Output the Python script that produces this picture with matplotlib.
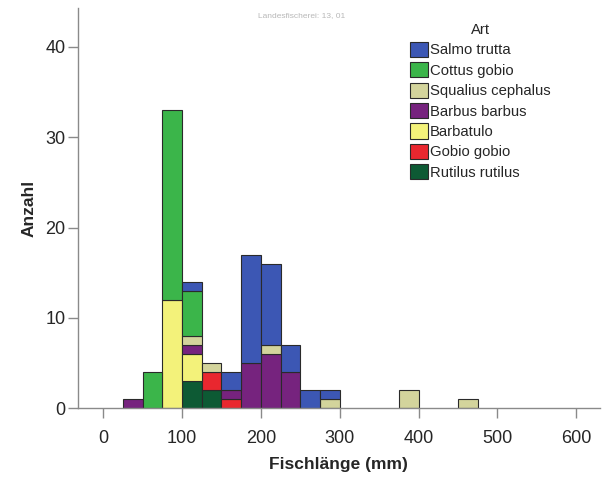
import numpy as np
import matplotlib
matplotlib.use("Agg")
import matplotlib.pyplot as plt

plt.rcParams['font.family'] = ['Liberation Sans', 'DejaVu Sans']

# bin left edges (mm), 25 mm wide
bin_left = [25, 50, 75, 100, 125, 150, 175, 200, 225, 250, 275, 300,
            325, 350, 375, 400, 425, 450]
bin_width = 25

# counts per species and bin (stack order bottom -> top)
rutilus   = [0, 0, 0, 3, 2, 0, 0, 0, 0, 0, 0, 0, 0, 0, 0, 0, 0, 0]
gobio     = [0, 0, 0, 0, 2, 1, 0, 0, 0, 0, 0, 0, 0, 0, 0, 0, 0, 0]
barbatula = [0, 0, 12, 3, 0, 0, 0, 0, 0, 0, 0, 0, 0, 0, 0, 0, 0, 0]
barbus    = [1, 0, 0, 1, 0, 1, 5, 6, 4, 0, 0, 0, 0, 0, 0, 0, 0, 0]
squalius  = [0, 0, 0, 1, 1, 0, 0, 1, 0, 0, 1, 0, 0, 0, 2, 0, 0, 1]
cottus    = [0, 4, 21, 5, 0, 0, 0, 0, 0, 0, 0, 0, 0, 0, 0, 0, 0, 0]
salmo     = [0, 0, 0, 1, 0, 2, 12, 9, 3, 2, 1, 0, 0, 0, 0, 0, 0, 0]

species = ["Salmo trutta", "Cottus gobio", "Squalius cephalus", "Barbus barbus",
           "Barbatulo", "Gobio gobio", "Rutilus rutilus"]
colors = ["#3c57b4", "#3bb54a", "#d3d49c", "#76237e", "#f3f27a", "#e9272f", "#0d5a34"]
counts = [salmo, cottus, squalius, barbus, barbatula, gobio, rutilus]

fig = plt.figure(figsize=(6.09, 4.78), dpi=100)
ax = fig.add_axes([0.128, 0.146, 0.857, 0.837])

bottom = np.zeros(len(bin_left))
# draw from the bottom of the stack (last in legend) upward
for name, col, vals in reversed(list(zip(species, colors, counts))):
    vals = np.array(vals, dtype=float)
    mask = vals > 0
    ax.bar(np.array(bin_left)[mask], vals[mask], width=bin_width, bottom=bottom[mask],
           align='edge', color=col, edgecolor='#2a2a2a', linewidth=0.8, label=name)
    bottom += vals

ax.set_xlim(-32, 630)
ax.set_ylim(0, 44.3)
ax.set_xticks([0, 100, 200, 300, 400, 500, 600])
ax.set_yticks([0, 10, 20, 30, 40])

for s in ['top', 'right']:
    ax.spines[s].set_visible(False)
for s in ['left', 'bottom']:
    ax.spines[s].set_color('#8a8a8a')
    ax.spines[s].set_linewidth(1.0)
ax.tick_params(axis='both', colors='#8a8a8a', labelcolor='#262626', labelsize=13,
               length=7, width=1.0, direction='out')
ax.tick_params(axis='x', pad=9)
ax.tick_params(axis='y', pad=2)

ax.set_xlabel("Fischlänge (mm)", fontsize=12.5, fontweight='bold', color='#262626', labelpad=7)
ax.set_ylabel("Anzahl", fontsize=12.5, fontweight='bold', color='#262626', labelpad=6)

fig.text(0.495, 0.968, "Landesfischerei: 13, 01", fontsize=6, color='#b8b8b8', ha='center', va='center')

hs, ls = ax.get_legend_handles_labels()
leg = ax.legend(hs[::-1], ls[::-1], title="Art", loc='upper left',
                bbox_to_anchor=(0.62, 0.985), frameon=False, fontsize=10.7,
                title_fontsize=10.7, handlelength=1.15, handleheight=1.2,
                handletextpad=0.15, labelspacing=0.32, borderaxespad=0.2)
leg.get_title().set_color('#262626')
for t in leg.get_texts():
    t.set_color('#262626')

fig.savefig("out.png", dpi=100, facecolor='white')
